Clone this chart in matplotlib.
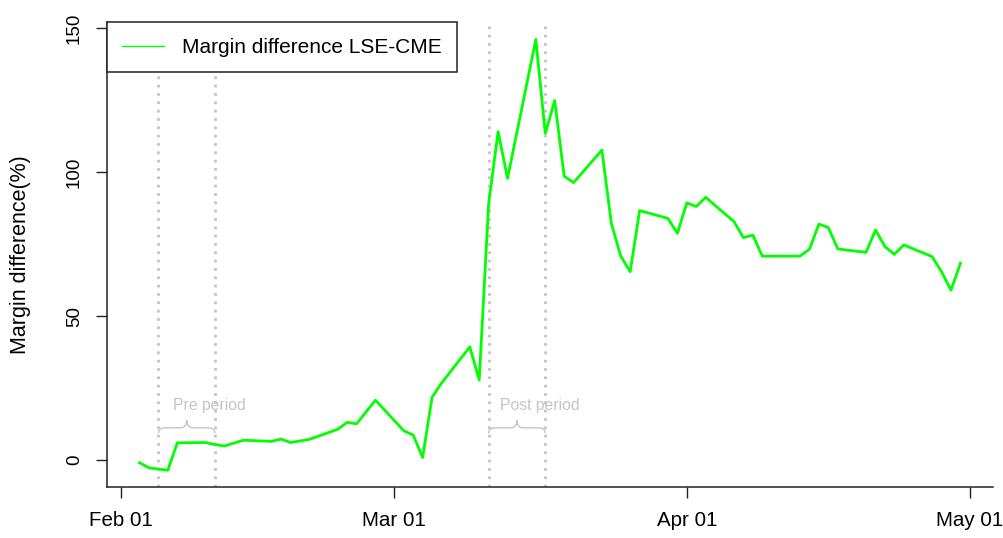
import numpy as np
import matplotlib
matplotlib.use("Agg")
import matplotlib.pyplot as plt
import matplotlib.dates as mdates
from matplotlib.path import Path
from matplotlib.patches import PathPatch

# margin difference LSE-CME (%)
dates = ['2020-02-03', '2020-02-04', '2020-02-06', '2020-02-07', '2020-02-10',
         '2020-02-11', '2020-02-12', '2020-02-14', '2020-02-17', '2020-02-18',
         '2020-02-19', '2020-02-21', '2020-02-24', '2020-02-25', '2020-02-26',
         '2020-02-28', '2020-03-02', '2020-03-03', '2020-03-04', '2020-03-05',
         '2020-03-06', '2020-03-09', '2020-03-10', '2020-03-11', '2020-03-12',
         '2020-03-13', '2020-03-16', '2020-03-17', '2020-03-18', '2020-03-19',
         '2020-03-20', '2020-03-23', '2020-03-24', '2020-03-25', '2020-03-26',
         '2020-03-27', '2020-03-30', '2020-03-31', '2020-04-01', '2020-04-02',
         '2020-04-03', '2020-04-06', '2020-04-07', '2020-04-08', '2020-04-09',
         '2020-04-13', '2020-04-14', '2020-04-15', '2020-04-16', '2020-04-17',
         '2020-04-20', '2020-04-21', '2020-04-22', '2020-04-23', '2020-04-24',
         '2020-04-27', '2020-04-28', '2020-04-29', '2020-04-30']
margin_diff = [-0.9, -2.7, -3.5, 6.0, 6.1, 5.4, 4.9, 6.9, 6.5, 7.3,
               6.1, 7.2, 10.7, 13.1, 12.6, 20.8, 10.2, 8.7, 0.9, 21.8,
               26.7, 39.3, 27.8, 89.1, 114.0, 97.8, 146.0, 113.4, 124.8, 98.6,
               96.3, 107.6, 82.2, 70.8, 65.4, 86.6, 83.9, 78.7, 89.3, 88.0,
               91.2, 82.8, 77.2, 78.1, 70.8, 70.8, 73.2, 81.9, 80.7, 73.3,
               72.1, 79.9, 74.1, 71.4, 74.7, 70.6, 65.4, 59.0, 68.3]

pre_period = ['2020-02-05', '2020-02-11']
post_period = ['2020-03-11', '2020-03-17']
period_labels = ['Pre period', 'Post period']

xtick_dates = ['2020-02-01', '2020-03-01', '2020-04-01', '2020-05-01']
xtick_labels = ['Feb 01', 'Mar 01', 'Apr 01', 'May 01']
yticks = [0, 50, 100, 150]

GRAY = '#C4C4C4'


def brace(ax, x0, x1, y_end, y_flat, y_tip, color):
    # horizontal curly brace pointing up, from x0 to x1 (date numbers)
    w = 0.7
    m = (x0 + x1) / 2
    verts = [(x0, y_end), (x0, y_flat), (x0 + w, y_flat),
             (m - w, y_flat),
             (m, y_flat), (m, y_tip),
             (m, y_flat), (m + w, y_flat),
             (x1 - w, y_flat),
             (x1, y_flat), (x1, y_end)]
    codes = [Path.MOVETO, Path.CURVE3, Path.CURVE3,
             Path.LINETO,
             Path.CURVE3, Path.CURVE3,
             Path.CURVE3, Path.CURVE3,
             Path.LINETO,
             Path.CURVE3, Path.CURVE3]
    ax.add_patch(PathPatch(Path(verts, codes), fill=False, edgecolor=color,
                           linewidth=1.0))


def main():
    plt.rcParams['font.family'] = ['Liberation Sans', 'DejaVu Sans']

    x = mdates.datestr2num(dates)
    y = np.array(margin_diff)

    fig = plt.figure(figsize=(10.04, 5.38), dpi=100)
    ax = fig.add_axes([0.1063, 0.0940, 0.8830, 0.8647])

    ax.plot(x, y, color='#00FF00', linewidth=2.0, label='Margin difference LSE-CME')

    for d in pre_period + post_period:
        ax.axvline(mdates.datestr2num(d), color=GRAY, linewidth=2.0,
                   linestyle=(0, (1, 2)), zorder=1)

    for per, lab in zip([pre_period, post_period], period_labels):
        a, b = mdates.datestr2num(per)
        brace(ax, a, b, 9.3, 11.2, 13.9, GRAY)
        ax.text((a + b) / 2 + 2.4, 18.9, lab, color=GRAY, fontsize=11.3,
                ha='center', va='center')

    # R style 4% padding
    xr = x.max() - x.min()
    yr = y.max() - y.min()
    ax.set_xlim(x.min() - 0.04 * xr, x.max() + 0.04 * xr)
    ax.set_ylim(y.min() - 0.04 * yr, y.max() + 0.04 * yr)

    ax.set_xticks(mdates.datestr2num(xtick_dates))
    ax.set_xticklabels(xtick_labels, fontsize=14.8)
    ax.set_yticks(yticks)
    ax.set_yticklabels([str(v) for v in yticks], fontsize=13.5,
                       rotation=90, va='center')

    ax.spines['top'].set_visible(False)
    ax.spines['right'].set_visible(False)
    for s in ['left', 'bottom']:
        ax.spines[s].set_color('#222222')
        ax.spines[s].set_linewidth(1.1)
    ax.tick_params(direction='out', length=8, width=1.0, color='#222222')
    ax.tick_params(axis='x', pad=9)
    ax.tick_params(axis='y', pad=9)

    ax.set_ylabel('Margin difference(%)', fontsize=15.5)
    ax.yaxis.set_label_coords(-0.085, 0.5)

    leg = ax.legend(loc='upper left', borderaxespad=0, fancybox=False,
                    edgecolor='#222222', framealpha=1, fontsize=15,
                    handlelength=2.0, handletextpad=0.85, borderpad=0.75)
    leg.get_frame().set_linewidth(1.1)
    leg.get_lines()[0].set_linewidth(1.0)

    fig.savefig('out.png', dpi=100)


if __name__ == '__main__':
    main()
